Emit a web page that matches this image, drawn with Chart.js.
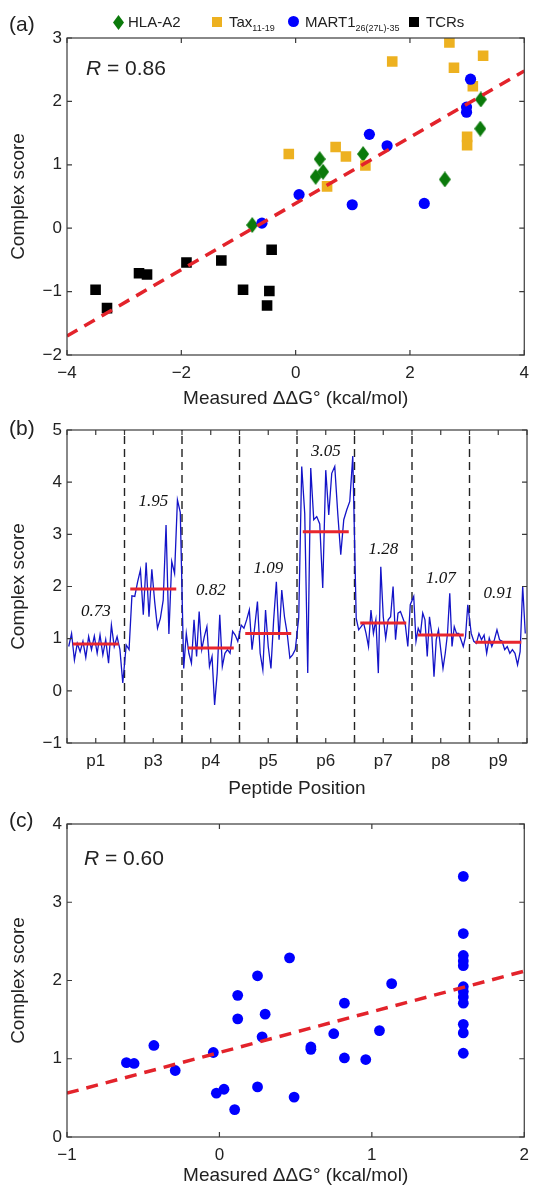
<!DOCTYPE html>
<html>
<head>
<meta charset="utf-8">
<script src="https://cdn.jsdelivr.net/npm/chart.js@4.4.1/dist/chart.umd.min.js"></script>
<style>
  body { margin: 0; background: #fff; }
  #page { position: relative; width: 537px; height: 1187px; overflow: hidden; font-family: "Liberation Sans", Arial, sans-serif; color: #222; }
  canvas { position: absolute; left: 0; }
  .tag, .rval { position: absolute; font-size: 21px; line-height: 24px; white-space: nowrap; }
  .leg { position: absolute; top: 13px; font-size: 15px; line-height: 18px; white-space: nowrap; }
  .leg sub { font-size: 9px; vertical-align: -4px; line-height: 0; }
  .mk { position: absolute; }
</style>
</head>
<body>
<div id="page">
  <canvas id="chartA" width="537" height="410" style="top:0"></canvas>
  <canvas id="chartB" width="537" height="390" style="top:410px"></canvas>
  <canvas id="chartC" width="537" height="387" style="top:800px"></canvas>

  <div class="tag" style="left:9px; top:12px">(a)</div>
  <div class="tag" style="left:9px; top:416px">(b)</div>
  <div class="tag" style="left:9px; top:808px">(c)</div>
  <div class="rval" style="left:86px; top:56px"><i>R</i> = 0.86</div>
  <div class="rval" style="left:84px; top:846px"><i>R</i> = 0.60</div>

  <!-- legend of panel (a) -->
  <div class="mk" style="left:113px; top:15px; width:11px; height:15px; background:#0b7a0b; clip-path:polygon(50% 0,100% 50%,50% 100%,0 50%)"></div>
  <div class="leg" style="left:128px">HLA-A2</div>
  <div class="mk" style="left:212px; top:17px; width:10px; height:10px; background:#edb120"></div>
  <div class="leg" style="left:229px">Tax<sub>11-19</sub></div>
  <div class="mk" style="left:288px; top:16px; width:11px; height:11px; border-radius:50%; background:#0000ff"></div>
  <div class="leg" style="left:305px">MART1<sub>26(27L)-35</sub></div>
  <div class="mk" style="left:409px; top:17px; width:10px; height:10px; background:#000"></div>
  <div class="leg" style="left:426px">TCRs</div>
</div>

<script>
// ---- (a) measured ddG vs complex score
const hlaX  = [-0.76, 0.35, 0.42, 0.48, 1.18, 2.61, 3.23, 3.24];
const hlaY  = [0.05, 0.81, 1.09, 0.89, 1.17, 0.77, 1.57, 2.03];
const taxX  = [-0.12, 0.55, 0.70, 0.88, 1.22, 1.69, 2.69, 2.77, 3.00, 3.00, 3.10, 3.28];
const taxY  = [1.17, 0.66, 1.28, 1.13, 0.99, 2.63, 2.93, 2.53, 1.44, 1.31, 2.24, 2.72];
const martX = [-0.59, 0.06, 0.99, 1.29, 1.60, 2.25, 2.99, 2.99, 3.06];
const martY = [0.08, 0.53, 0.37, 1.48, 1.30, 0.39, 1.83, 1.91, 2.35];
const tcrX  = [-3.50, -3.30, -2.74, -2.60, -1.91, -1.30, -0.92, -0.50, -0.46, -0.42];
const tcrY  = [-0.97, -1.26, -0.71, -0.73, -0.54, -0.51, -0.97, -1.22, -0.99, -0.34];
const fitAX = [-4, 4];
const fitAY = [-1.70, 2.48];

// ---- (b) complex score per substitution, by peptide position
const peptidePositions = ['p1', 'p3', 'p4', 'p5', 'p6', 'p7', 'p8', 'p9'];
const scoresP1 = [0.85, 1.10, 0.59, 0.91, 0.75, 0.95, 0.64, 1.04, 0.79, 1.05, 0.72, 1.07, 0.69, 0.98, 0.53, 1.26, 0.85, 1.04, 0.79, 0.15];
const scoresP3 = [0.88, 0.79, 1.82, 1.81, 2.09, 2.32, 1.46, 2.46, 1.42, 2.33, 1.71, 1.20, 1.39, 1.74, 3.18, 1.09, 2.48, 2.25, 3.66, 3.42];
const scoresP4 = [0.43, 1.10, 0.72, 0.53, 1.36, 0.66, 1.52, 0.79, 1.04, 1.23, 0.47, 0.66, -0.27, 0.34, 1.46, 0.47, 0.72, 0.79, 0.72, 1.14, 1.07, 0.95];
const scoresP5 = [1.26, 1.20, 1.36, 1.55, 0.79, 1.23, 1.71, 0.72, 0.40, 1.55, 0.85, 0.43, 1.36, 2.09, 0.98, 1.93, 1.42, 1.10, 0.63, 0.69, 0.79];
const scoresP6 = [1.40, 4.30, 3.40, 0.34, 4.27, 3.28, 3.34, 3.20, 1.97, 4.23, 3.37, 4.17, 4.30, 3.40, 2.61, 3.28, 3.47, 3.63, 4.50];
const scoresP7 = [1.39, 1.17, 1.23, 1.30, 1.10, 0.85, 1.55, 1.10, 1.36, 0.34, 2.38, 1.42, 1.01, 1.36, 1.42, 2.00, 0.98, 1.49, 1.52, 1.39, 1.26, 0.85, 1.65];
const scoresP8 = [1.81, 0.95, 1.20, 1.10, 1.49, 1.36, 0.66, 1.42, 1.10, 0.27, 0.98, 1.17, 0.79, 0.43, 0.72, 1.10, 1.87, 0.85, 1.23, 1.10, 1.10, 0.98, 0.85, 1.04, 1.65];
const scoresP9 = [1.10, 0.95, 0.91, 1.10, 0.98, 1.07, 0.72, 1.01, 0.85, 0.98, 1.17, 0.98, 0.95, 0.79, 0.85, 0.72, 0.79, 0.72, 0.50, 0.75, 2.00, 1.10];
const groupMeans = [0.90, 1.95, 0.82, 1.10, 3.05, 1.30, 1.07, 0.93];   // red bars as drawn
const meanLabels = ['0.73', '1.95', '0.82', '1.09', '3.05', '1.28', '1.07', '0.91'];

// ---- (c) measured ddG vs complex score
const cX = [-0.61, -0.56, -0.43, -0.29, -0.04, -0.02, 0.03, 0.10, 0.12, 0.12, 0.25, 0.25, 0.28, 0.30, 0.46, 0.49,
            0.60, 0.60, 0.75, 0.82, 0.82, 0.96, 1.05, 1.13,
            1.60, 1.60, 1.60, 1.60, 1.60, 1.60, 1.60, 1.60, 1.60, 1.60, 1.60, 1.60];
const cY = [0.95, 0.94, 1.17, 0.85, 1.08, 0.56, 0.61, 0.35, 1.81, 1.51, 2.06, 0.64, 1.28, 1.57, 2.29, 0.51,
            1.15, 1.12, 1.32, 1.71, 1.01, 0.99, 1.36, 1.96,
            3.33, 2.60, 2.32, 2.25, 2.19, 1.92, 1.86, 1.79, 1.71, 1.44, 1.33, 1.07];
const fitCX = [-1, 2];
const fitCY = [0.56, 2.12];

// ---- shared look
const ink = '#222';
const RED = '#e3232b';
const tickFont = { family: '"Liberation Sans", Arial, sans-serif', size: 17 };
const titleFont = { family: '"Liberation Sans", Arial, sans-serif', size: 19 };
const minus = v => String(v).replace('-', '\u2212');
const pts = (xs, ys) => xs.map((x, i) => ({ x, y: ys[i] }));

function diamond(w, h, color) {
  const c = document.createElement('canvas');
  c.width = w; c.height = h;
  const g = c.getContext('2d');
  g.fillStyle = color;
  g.beginPath();
  g.moveTo(w / 2, 0); g.lineTo(w, h / 2); g.lineTo(w / 2, h); g.lineTo(0, h / 2);
  g.closePath(); g.fill();
  return c;
}

// box round the plot with inward ticks on all four sides
const frame = {
  id: 'frame',
  afterDraw(chart) {
    const { ctx, chartArea: a, scales: { x, y } } = chart;
    ctx.save();
    ctx.strokeStyle = '#3a3a3a';
    ctx.lineWidth = 1.2;
    ctx.strokeRect(a.left, a.top, a.right - a.left, a.bottom - a.top);
    ctx.beginPath();
    x.ticks.forEach(t => {
      const px = x.getPixelForValue(t.value);
      ctx.moveTo(px, a.bottom); ctx.lineTo(px, a.bottom - 5);
      ctx.moveTo(px, a.top); ctx.lineTo(px, a.top + 5);
    });
    y.ticks.forEach(t => {
      const py = y.getPixelForValue(t.value);
      ctx.moveTo(a.left, py); ctx.lineTo(a.left + 5, py);
      ctx.moveTo(a.right, py); ctx.lineTo(a.right - 5, py);
    });
    ctx.stroke();
    ctx.restore();
  }
};

function axis(min, max, step, title, extra) {
  return Object.assign({
    type: 'linear', min, max,
    grid: { display: false, drawTicks: false },
    border: { display: false },
    ticks: { stepSize: step, color: ink, font: tickFont, callback: minus, maxRotation: 0, autoSkip: false },
    title: { display: true, text: title, color: ink, font: titleFont, padding: 0 }
  }, extra);
}

function yAxis(min, max, step) {
  const s = axis(min, max, step, 'Complex score', { afterFit: sc => { sc.width = 67; } });
  s.ticks.padding = 5;
  s.title.padding = { top: 7, bottom: 0 };
  return s;
}

const baseOpts = (pad) => ({
  responsive: false,
  animation: false,
  layout: { padding: pad },
  plugins: { legend: { display: false }, tooltip: { enabled: false } }
});

// ---- chart (a)
const xA = axis(-4, 4, 2, 'Measured \u0394\u0394G\u00b0 (kcal/mol)', { afterFit: sc => { sc.height = 55; } });
xA.ticks.padding = 8;
new Chart(document.getElementById('chartA'), {
  type: 'scatter',
  data: {
    datasets: [
      { type: 'line', data: pts(fitAX, fitAY), borderColor: RED, borderWidth: 3.5, borderDash: [12, 8], pointRadius: 0, order: 0 },
      { data: pts(tcrX, tcrY), pointStyle: 'rect', pointRadius: 7.5, backgroundColor: '#000', borderWidth: 0, order: 1 },
      { data: pts(martX, martY), pointStyle: 'circle', pointRadius: 5.6, backgroundColor: '#0000ff', borderWidth: 0, order: 2 },
      { data: pts(taxX, taxY), pointStyle: 'rect', pointRadius: 7.5, backgroundColor: '#edb120', borderWidth: 0, order: 3 },
      { data: pts(hlaX, hlaY), pointStyle: diamond(12, 16, '#0b7a0b'), backgroundColor: '#0b7a0b', borderWidth: 0, order: 4 }
    ]
  },
  options: Object.assign(baseOpts({ top: 38, right: 7, left: 0, bottom: 0 }), {
    scales: { x: xA, y: yAxis(-2, 3, 1) }
  }),
  plugins: [frame]
});

// ---- chart (b)
const groups = [scoresP1, scoresP3, scoresP4, scoresP5, scoresP6, scoresP7, scoresP8, scoresP9];
const yMinB = -1, yMaxB = 5;
const trace = [];
groups.forEach((vals, g) => vals.forEach((v, j) => trace.push({ x: g + 0.03 + 0.94 * j / (vals.length - 1), y: v })));
const meanBars = [];
groupMeans.forEach((m, g) => meanBars.push({ x: g + 0.1, y: m }, { x: g + 0.9, y: m }, { x: g + 0.9, y: null }));
const dividers = [];
for (let g = 1; g < groups.length; g++) dividers.push({ x: g, y: yMinB }, { x: g, y: yMaxB }, { x: g, y: null });

const labelLift = [1.52, 3.63, 1.93, 2.35, 4.58, 2.70, 2.16, 1.87];
const meanText = {
  id: 'meanText',
  afterDatasetsDraw(chart) {
    const { ctx, scales: { x, y } } = chart;
    ctx.save();
    ctx.font = 'italic 17px "Liberation Serif", "Times New Roman", serif';
    ctx.fillStyle = '#111';
    ctx.textAlign = 'center';
    ctx.textBaseline = 'middle';
    meanLabels.forEach((t, i) => ctx.fillText(t, x.getPixelForValue(i + 0.5), y.getPixelForValue(labelLift[i])));
    ctx.restore();
  }
};

const xB = axis(0, groups.length, 0.5, 'Peptide Position', {
  afterFit: sc => { sc.height = 57; },
  afterBuildTicks: sc => {
    const t = [];
    for (let i = 0; i <= groups.length * 2; i++) t.push({ value: i / 2 });
    sc.ticks = t;
  }
});
xB.ticks.padding = 8;
xB.ticks.callback = v => (v % 1 === 0.5 ? peptidePositions[Math.floor(v)] : '');

new Chart(document.getElementById('chartB'), {
  type: 'scatter',
  data: {
    datasets: [
      { data: meanBars, showLine: true, spanGaps: false, borderColor: '#e8262e', borderWidth: 3, pointRadius: 0, order: 0 },
      { data: trace, showLine: true, borderColor: '#1414c8', borderWidth: 1.3, pointRadius: 0, order: 1 },
      { data: dividers, showLine: true, spanGaps: false, borderColor: '#222', borderWidth: 1.4, borderDash: [8, 5], pointRadius: 0, order: 2 }
    ]
  },
  options: Object.assign(baseOpts({ top: 20, right: 10, left: 0, bottom: 0 }), {
    scales: { x: xB, y: yAxis(yMinB, yMaxB, 1) }
  }),
  plugins: [frame, meanText]
});

// ---- chart (c)
const xC = axis(-1, 2, 1, 'Measured \u0394\u0394G\u00b0 (kcal/mol)', { afterFit: sc => { sc.height = 50; } });
xC.ticks.padding = 8;
new Chart(document.getElementById('chartC'), {
  type: 'scatter',
  data: {
    datasets: [
      { type: 'line', data: pts(fitCX, fitCY), borderColor: RED, borderWidth: 3.5, borderDash: [12, 8], pointRadius: 0, order: 0 },
      { data: pts(cX, cY), pointStyle: 'circle', pointRadius: 5.4, backgroundColor: '#0000ff', borderWidth: 0, order: 1 }
    ]
  },
  options: Object.assign(baseOpts({ top: 24, right: 10, left: 0, bottom: 0 }), {
    scales: { x: xC, y: yAxis(0, 4, 1) }
  }),
  plugins: [frame]
});
</script>
</body>
</html>
